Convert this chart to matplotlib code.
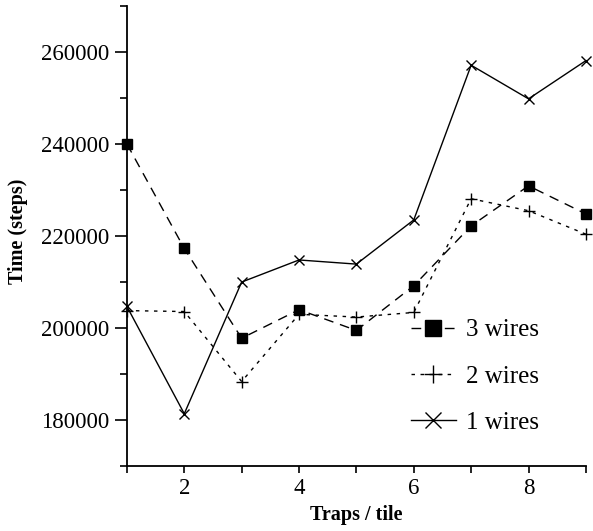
import matplotlib
matplotlib.use('Agg')
import matplotlib.pyplot as plt
from matplotlib.ticker import MultipleLocator

plt.rcParams['font.family'] = ['Liberation Serif', 'DejaVu Serif']

# 数据
traps = [1, 2, 3, 4, 5, 6, 7, 8, 9]
wires3 = [240000, 217300, 197800, 204000, 199500, 209200, 222200, 230900, 224800]
wires2 = [203800, 203600, 188400, 203000, 202400, 203400, 228100, 225500, 220400]
wires1 = [204700, 181400, 210000, 214800, 213900, 223500, 257100, 249800, 258100]

fig = plt.figure(figsize=(5.93, 5.31), dpi=100)
ax = fig.add_axes([0.214, 0.122, 0.774, 0.867])

ax.plot(traps, wires3, color='black', lw=1.0, ls=(0, (7, 5)), marker='s',
        ms=7, mfc='black', label='3 wires', clip_on=False)
ax.plot(traps, wires2, color='black', lw=1.0, ls=(0, (2.5, 4)), marker='+',
        ms=8, mew=1.0, label='2 wires', clip_on=False)
ax.plot(traps, wires1, color='black', lw=1.0, ls='-', marker='x',
        ms=7.5, mew=1.0, label='1 wires', clip_on=False)

ax.set_xlim(1, 9)
ax.set_ylim(170000, 270000)
ax.xaxis.set_major_locator(MultipleLocator(2))
ax.xaxis.set_minor_locator(MultipleLocator(1))
ax.yaxis.set_major_locator(MultipleLocator(20000))
ax.yaxis.set_minor_locator(MultipleLocator(10000))

for s in ['top', 'right']:
    ax.spines[s].set_visible(False)
for s in ['left', 'bottom']:
    ax.spines[s].set_linewidth(1.3)

ax.tick_params(axis='both', which='both', direction='out', width=1.2, labelsize=16.5)
ax.tick_params(axis='y', which='major', length=9)
ax.tick_params(axis='y', which='minor', length=5)
ax.tick_params(axis='x', which='both', length=5)

ax.set_xlabel('Traps / tile', fontsize=14.5, fontweight='bold')
ax.set_ylabel('Time (steps)', fontsize=14.5, fontweight='bold')
ax.yaxis.set_label_coords(-0.215, 0.51)

ax.legend(loc='lower left', bbox_to_anchor=(0.693, 0.183), bbox_transform=fig.transFigure,
          frameon=False, fontsize=18, handlelength=1.8, labelspacing=0.95,
          handletextpad=0.4, borderpad=0, borderaxespad=0, markerscale=1.6)

fig.savefig('out.png', dpi=100)
